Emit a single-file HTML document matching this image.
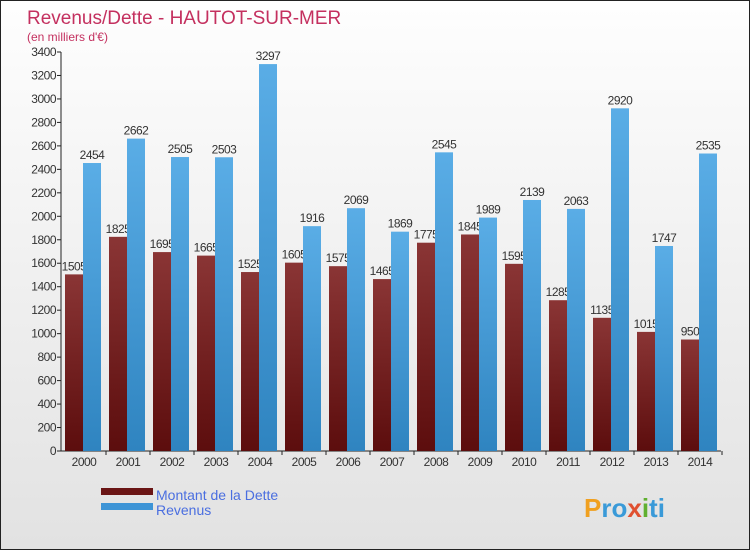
<!DOCTYPE html>
<html><head><meta charset="utf-8"><style>
body{margin:0}
#c{position:relative;width:748px;height:548px;border:1px solid #222;background:linear-gradient(#fefefe,#e2e2e2);font-family:"Liberation Sans",sans-serif;overflow:hidden}
</style></head><body>
<div id="c">
<svg id="s" width="748" height="548">
<defs>
<linearGradient id="gd" x1="0" y1="0" x2="0" y2="1"><stop offset="0" stop-color="#8a3535"/><stop offset="1" stop-color="#5c0d0d"/></linearGradient>
<linearGradient id="gr" x1="0" y1="0" x2="0" y2="1"><stop offset="0" stop-color="#5aade6"/><stop offset="1" stop-color="#2f84c0"/></linearGradient>
</defs>
<text x="26" y="23" font-size="19" fill="#c4305f">Revenus/Dette - HAUTOT-SUR-MER</text>
<text x="26" y="40" font-size="12" fill="#c4305f">(en milliers d'€)</text>
<g id="g"></g>
<rect x="100" y="487" width="52" height="7" fill="#6a1515"/>
<rect x="100" y="502" width="52" height="7" fill="#3d94d6"/>
<text x="155" y="499" font-size="14" fill="#4a6ee0">Montant de la Dette</text>
<text x="155" y="514" font-size="14" fill="#4a6ee0">Revenus</text>
<text x="583" y="516" font-size="26" font-weight="bold" fill="#3a9ad8"><tspan fill="#f0a020">P</tspan>ro<tspan fill="#e05030">x</tspan><tspan fill="#60b030">i</tspan>ti</text>
</svg>
</div>
<script>
const years=["2000","2001","2002","2003","2004","2005","2006","2007","2008","2009","2010","2011","2012","2013","2014"];
const debt=[1505,1825,1695,1665,1525,1605,1575,1465,1775,1845,1595,1285,1135,1015,950];
const revenue=[2454,2662,2505,2503,3297,1916,2069,1869,2545,1989,2139,2063,2920,1747,2535];
const ticks=[0,200,400,600,800,1000,1200,1400,1600,1800,2000,2200,2400,2600,2800,3000,3200,3400];
const NS="http://www.w3.org/2000/svg",g=document.getElementById('g');
const y=v=>450-v*399/3400, x=i=>83+i*44;
function mk(t,a,txt){const e=document.createElementNS(NS,t);for(const k in a)e.setAttribute(k,a[k]);if(txt!=null)e.textContent=txt;g.appendChild(e);return e;}
let ax=mk('line',{x1:60,y1:51,x2:60,y2:450,stroke:'#222'});


let bx=mk('line',{x1:60,y1:450,x2:720,y2:450,stroke:'#222'});


ticks.forEach(t=>{
 let l=mk('line',{x1:56,y1:y(t),x2:60,y2:y(t),stroke:'#222'});
 
 
 let tx=mk('text',{x:55,y:y(t)+4,'font-size':12,'text-anchor':'end',fill:'#333','letter-spacing':'-0.5'},t);
 
 
});
years.forEach((yr,i)=>{
 const c=x(i);
 let d=mk('rect',{x:c-19,y:y(debt[i]),width:18,height:450-y(debt[i]),fill:'url(#gd)'});
 
 
 let dl=mk('text',{x:c-10,y:y(debt[i])-4,'font-size':12,'text-anchor':'middle',fill:'#333','letter-spacing':'-0.5'},debt[i]);
 
 
 let r=mk('rect',{x:c-1,y:y(revenue[i]),width:18,height:450-y(revenue[i]),fill:'url(#gr)'});
 
 
 let rl=mk('text',{x:c+8,y:y(revenue[i])-4,'font-size':12,'text-anchor':'middle',fill:'#333','letter-spacing':'-0.5'},revenue[i]);
 
 
 let xt=mk('line',{x1:c+22,y1:450,x2:c+22,y2:454,stroke:'#222'});
 
 
 let xl=mk('text',{x:c,y:465,'font-size':12,'text-anchor':'middle',fill:'#333','letter-spacing':'-0.5'},yr);
 
 
});
</script>
</body></html>
